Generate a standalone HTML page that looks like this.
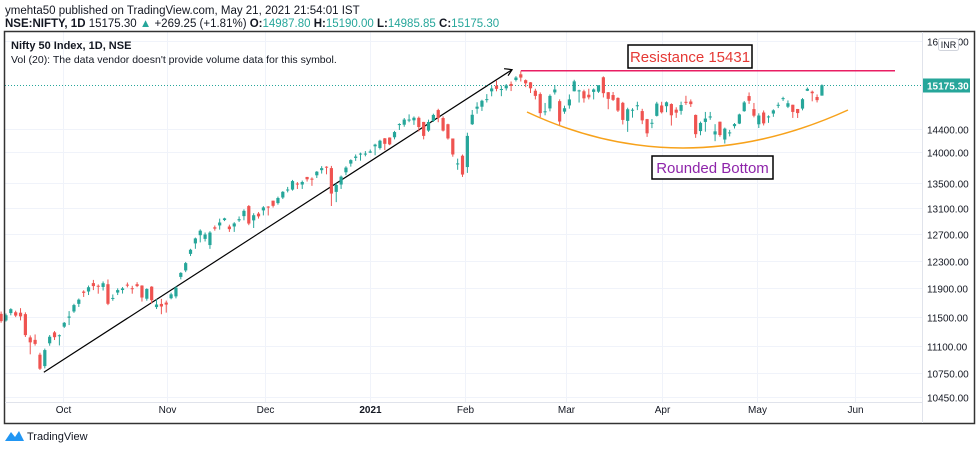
<!DOCTYPE html>
<html><head><meta charset="utf-8"><style>
body{margin:0;background:#fff;width:980px;height:450px;overflow:hidden;font-family:"Liberation Sans",sans-serif;}
svg text{font-family:"Liberation Sans",sans-serif;}
</style></head><body>
<svg id="c" width="980" height="450" viewBox="0 0 980 450">
<text x="5" y="14" font-size="11.5" fill="#131722">ymehta50 published on TradingView.com, May 21, 2021 21:54:01 IST</text>
<text x="5" y="27" font-size="11.5" fill="#131722"><tspan font-weight="bold">NSE:NIFTY, 1D</tspan> 15175.30 <tspan fill="#26a69a">▲</tspan> +269.25 (+1.81%) <tspan font-weight="bold">O:</tspan><tspan fill="#26a69a">14987.80</tspan> <tspan font-weight="bold">H:</tspan><tspan fill="#26a69a">15190.00</tspan> <tspan font-weight="bold">L:</tspan><tspan fill="#26a69a">14985.85</tspan> <tspan font-weight="bold">C:</tspan><tspan fill="#26a69a">15175.30</tspan></text>
<g id="grid"></g>
<g id="ann-under"></g>
<g id="candles"></g>
<g id="axes"></g>
<rect x="4.5" y="31.5" width="970" height="392" fill="none" stroke="#333" stroke-width="1.5"/>
<line x1="922.5" y1="32" x2="922.5" y2="423" stroke="#e0e3eb"/>
<line x1="5" y1="402.5" x2="922" y2="402.5" stroke="#e0e3eb"/>
<text x="11" y="49" font-size="11" font-weight="bold" fill="#131722">Nifty 50 Index, 1D, NSE</text>
<text x="11" y="63" font-size="10.5" fill="#131722">Vol (20): The data vendor doesn't provide volume data for this symbol.</text>
<g>
<path d="M5 441 L11 432 L15 437 L19 431 L24 441 Z" fill="#2196f3"/>
<text x="27" y="440" font-size="11" fill="#131722">TradingView</text>
</g>
</svg>
<script>
const months=["Oct","Nov","Dec","2021","Feb","Mar","Apr","May","Jun"];
const monthIdx=[12.7,34.2,54.3,76,95.5,116.3,136.1,155.6,175.8];
const priceTicks=[16000,14400,14000,13500,13100,12700,12300,11900,11500,11100,10750,10450];
const opens=[11540,11449,11551,11562,11556,11536,11219,11186,10989,10840,11140,11287,11245,
11364,11487,11573,11679,11852,11853,11973,11935,11918,11957,11752,11838,11874,11951,11900,11957,11938,11751,11922,11634,11678,
11697,11758,11784,12062,12156,12399,12556,12680,12624,12531,12800,12829,12912,12812,12813,12907,12973,13130,12907,13012,
13062,13122,13215,13177,13265,13393,13392,13489,13473,13596,13568,13623,13707,13764,13741,13355,13473,13672,13815,13910,13980,13970,
13997,14104,14075,14240,14253,14258,14474,14474,14545,14550,14594,14522,14372,14538,14730,14590,14482,14237,13811,13946,
13758,14482,14754,14789,14919,15064,15165,15094,15119,15198,15270,15374,15267,15228,15075,15015,14707,14759,15045,14888,
14702,14812,15065,15064,15065,15003,15054,15058,15320,15048,14997,14946,14858,14540,14736,14806,14712,14571,14506,14628,14811,
14798,14837,14737,14716,14876,14882,14644,14364,14522,14599,14306,14526,14219,14326,14449,14493,14710,14979,14747,
14481,14687,14604,14668,14817,14928,14789,14824,14749,14756,15074,15058,14962,14987];
const highs=[11572,11545,11618,11584,11619,11561,11246,11259,11015,11070,11251,11305,11259,
11428,11578,11680,11754,11870,11938,12019,11954,11997,12025,11811,11898,11916,11981,11934,11986,11942,11899,11929,11744,11749,
11725,11837,11929,12131,12280,12475,12644,12769,12721,12741,12828,12934,12948,12841,12879,12968,13079,13146,13018,13036,
13129,13129,13216,13280,13367,13435,13548,13513,13537,13597,13589,13692,13773,13772,13777,13492,13619,13771,13886,13967,13998,14024,
14050,14148,14216,14245,14256,14367,14499,14590,14654,14618,14617,14523,14562,14666,14753,14619,14491,14237,13898,13966,
14336,14731,14868,14913,15014,15159,15257,15168,15196,15243,15340,15431,15280,15232,15111,15045,14856,15009,15176,14920,
14807,15008,15274,15093,15093,15111,15117,15162,15336,15052,15052,14956,14875,14771,14764,14878,14752,14575,14572,14876,14877,
14883,14849,14779,14879,14984,14919,14652,14528,14697,14697,14483,14528,14424,14384,14503,14667,14890,15044,14856,
14673,14723,14637,14743,14864,14967,14901,14824,14750,14943,15134,15078,15008,15190];
const lows=[11418,11434,11520,11495,11450,11225,10994,11110,10790,10810,11108,11184,11112,
11347,11386,11554,11636,11776,11803,11873,11822,11867,11661,11722,11803,11824,11912,11822,11915,11711,11723,11684,11607,11535,
11557,11743,11756,12027,12131,12367,12475,12571,12585,12474,12749,12765,12896,12730,12730,12883,12908,12833,12790,12935,
12984,12983,13107,13152,13241,13347,13375,13401,13402,13521,13452,13579,13651,13639,13131,13192,13402,13626,13765,13860,13864,13936,
13992,13954,14049,14040,14123,14222,14383,14439,14517,14471,14357,14222,14350,14521,14517,14357,14218,13929,13713,13596,
13662,14469,14665,14714,14864,14975,15065,14977,15079,15069,15243,15242,15140,15034,14919,14606,14638,14707,15006,14468,
14664,14754,15062,14863,14862,14919,14919,15036,14954,14745,14890,14696,14478,14350,14597,14729,14484,14264,14414,14617,14670,
14692,14459,14593,14649,14821,14785,14248,14292,14353,14559,14191,14267,14151,14273,14408,14484,14700,14839,14602,
14417,14461,14506,14611,14765,14892,14765,14592,14591,14725,15069,14885,14865,14986];
const closes=[11440,11521,11605,11516,11505,11250,11153,11132,10806,11050,11228,11222,11248,
11417,11503,11662,11738,11834,11914,11930,11934,11971,11680,11762,11873,11897,11937,11896,11930,11768,11889,11730,11670,11642,
11669,11813,11908,12120,12263,12461,12631,12749,12691,12720,12780,12874,12938,12772,12860,12926,13055,12858,12987,12969,
13109,13114,13134,13258,13356,13393,13529,13478,13514,13558,13567,13682,13740,13761,13328,13466,13601,13749,13873,13932,13982,13982,
14018,14133,14199,14146,14137,14347,14485,14563,14564,14595,14433,14281,14521,14644,14590,14372,14238,13967,13818,13635,
14281,14647,14790,14895,14924,15116,15109,15106,15173,15163,15315,15314,15209,15119,14982,14676,14708,14982,15097,14529,
14762,14919,15245,15081,14938,14956,15098,15175,15031,14929,14911,14721,14557,14744,14736,14815,14549,14325,14507,14845,14691,
14868,14638,14684,14819,14873,14835,14311,14505,14581,14618,14359,14296,14406,14341,14485,14653,14865,14895,14631,
14634,14497,14618,14725,14823,14942,14851,14697,14677,14923,15109,15030,14906,15175];
const lastPrice=15175.30;
const resistance=15431;

const NS="http://www.w3.org/2000/svg";
function xOf(i){return 1.1+i*4.857;}
function yOf(p){return 41+835*Math.log(16000/p);}
function mk(tag,attrs,parent){const e=document.createElementNS(NS,tag);for(const k in attrs)e.setAttribute(k,attrs[k]);parent.appendChild(e);return e;}
const grid=document.getElementById('grid'),cg=document.getElementById('candles'),ax=document.getElementById('axes'),an=document.getElementById('ann-under');
const svg=document.getElementById('c');

priceTicks.forEach(p=>{const y=Math.round(yOf(p))+0.5;
 const l=mk('line',{x1:5,x2:922,y1:y,y2:y,stroke:'#f0f3fa'},grid);
 
 
 const t=mk('text',{x:927,y:y+4,'font-size':10,fill:'#131722'},ax);t.textContent=p.toFixed(2);
 
 
});
months.forEach((m,k)=>{const x=Math.round(xOf(monthIdx[k]))+0.5;
 const l=mk('line',{x1:x,x2:x,y1:32,y2:402,stroke:'#f0f3fa'},grid);
 
 
 const t=mk('text',{x:x,y:413,'font-size':10,fill:'#131722','text-anchor':'middle','font-weight':m==='2021'?'bold':'normal'},ax);t.textContent=m;
 
 
});

const tl=mk('line',{x1:xOf(8.8),y1:yOf(10760),x2:xOf(105.2),y2:yOf(15460),stroke:'#000','stroke-width':1.2},an);


const tx2=xOf(105.2),ty2=yOf(15460);
const ah=mk('path',{d:`M${tx2-8} ${ty2-1} L${tx2} ${ty2} L${tx2-4} ${ty2+6}`,fill:'none',stroke:'#000','stroke-width':1.2},an);


const rl=mk('line',{x1:xOf(107),x2:895,y1:yOf(resistance)-0.5,y2:yOf(resistance)-0.5,stroke:'#e91e63','stroke-width':1.5},an);


const arc=mk('path',{d:`M527 112 Q 683 185 848 110`,fill:'none',stroke:'#f7a21b','stroke-width':1.5},an);


const ly=Math.round(yOf(lastPrice))+0.5;
const pl=mk('line',{x1:5,x2:922,y1:ly,y2:ly,stroke:'#26a69a','stroke-dasharray':'1 2'},an);



for(let i=0;i<closes.length;i++){
 const up=closes[i]>=opens[i];const col=up?'#26a69a':'#ef5350';
 const x=xOf(i);const g=mk('g',{},cg);
 
 
 mk('line',{x1:x,x2:x,y1:yOf(highs[i]),y2:yOf(lows[i]),stroke:col,'stroke-width':1},g);
 const yt=yOf(Math.max(opens[i],closes[i])),yb=yOf(Math.min(opens[i],closes[i]));
 mk('rect',{x:x-1.6,y:yt,width:3.2,height:Math.max(1,yb-yt),fill:col},g);
}

function box(x,y,w,h,txt,color,name){const g=mk('g',{},svg);
 
 
 mk('rect',{x:x,y:y,width:w,height:h,fill:'#fff',stroke:'#000','stroke-width':1.5},g);
 const t=mk('text',{x:x+w/2,y:y+h-6,'font-size':15,fill:color,'text-anchor':'middle'},g);t.textContent=txt;}
box(628,45,124,23,'Resistance 15431','#e53935','resistance-label');
box(652,156,121,23,'Rounded Bottom','#8e24aa','rounded-bottom-label');
const pg=mk('g',{},svg);


mk('rect',{x:923,y:ly-7,width:47,height:14,fill:'#26a69a'},pg);
const pt=mk('text',{x:927,y:ly+4,'font-size':10,fill:'#fff','font-weight':'bold'},pg);pt.textContent=lastPrice.toFixed(2);
const ig=mk('g',{},svg);


mk('rect',{x:938.5,y:38.5,width:20,height:12,rx:2,fill:'#fff',stroke:'#d1d4dc'},ig);
const it=mk('text',{x:948.5,y:48,'font-size':9,fill:'#131722','text-anchor':'middle'},ig);it.textContent='INR';
</script>
</body></html>
